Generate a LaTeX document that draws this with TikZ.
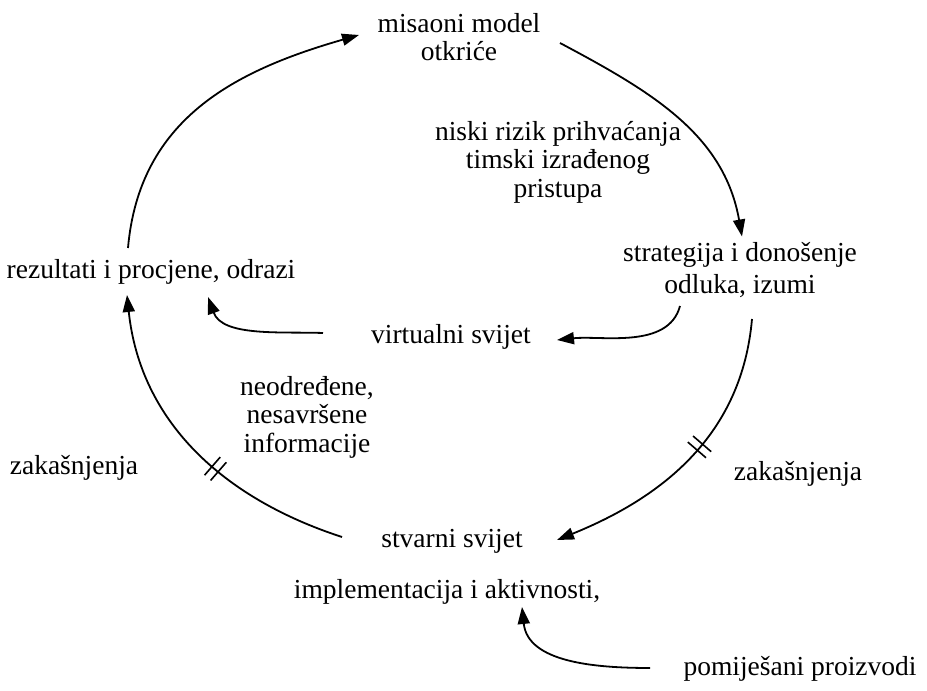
\documentclass[tikz,border=0pt]{standalone}
\usepackage{fontspec}
\setmainfont{Liberation Serif}
\usetikzlibrary{arrows.meta,decorations.markings}
\begin{document}
\begin{tikzpicture}[x=1pt,y=1pt,
  lbl/.style={font=\fontsize{27.5}{28.5}\selectfont, inner sep=0pt, align=center},
  conn/.style={line width=1.8pt, -{Triangle[length=17pt,width=12pt]}},
  delaymark/.style={postaction={decorate,decoration={markings,
      mark=at position #1 with {
        \draw[-,line width=1.6pt] (-4pt,-12pt) -- (-4pt,12pt);
        \draw[-,line width=1.6pt] (4pt,-12pt) -- (4pt,12pt);}}}}
]
\useasboundingbox (0,0) rectangle (927,691);

% labels
\node[lbl] (mis)  at (459,654) {misaoni model\\otkriće};
\node[lbl] (nis)  at (558,529) {niski rizik prihvaćanja\\timski izrađenog\\pristupa};
\node[lbl,font=\fontsize{27.5}{32}\selectfont] (str) at (740,420.5) {strategija i donošenje\\odluka, izumi};
\node[lbl] (rez)  at (151,419) {rezultati i procjene, odrazi};
\node[lbl] (vir)  at (451,354) {virtualni svijet};
\node[lbl] (neo)  at (307,274) {neodređene,\\nesavršene\\informacije};
\node[lbl] (zakL) at (74,223)  {zakašnjenja};
\node[lbl] (zakR) at (798,217) {zakašnjenja};
\node[lbl] (stv)  at (452,150) {stvarni svijet};
\node[lbl] (imp)  at (447,99)  {implementacija i aktivnosti,};
\node[lbl] (pom)  at (800,22)  {pomiješani proizvodi};

% main loop
\draw[conn] ([shift={(-23,24)}]rez.center) to[out=85,in=196,looseness=1.05]
  ([shift={(-100,2)}]mis.center);
\draw[conn] ([shift={(101,-6)}]mis.center) to[out=-28,in=100,looseness=1.0]
  ([shift={(2,34)}]str.center);
\draw[conn,delaymark=0.45] ([shift={(12,-48.5)}]str.center) to[out=-95,in=22,looseness=1.0]
  ([shift={(105,1)}]stv.center);
\draw[conn,delaymark=0.42] ([shift={(-110,4)}]stv.center) to[out=162,in=-84,looseness=1.0]
  ([shift={(-24,-23)}]rez.center);

% inner feedback
\draw[conn] ([shift={(-60,-35.5)}]str.center) to[out=-105,in=6,looseness=0.9]
  ([shift={(106,-3)}]vir.center);
\draw[conn] ([shift={(-128,4)}]vir.center) to[out=178,in=-70,looseness=0.9]
  ([shift={(57,-25)}]rez.center);

% external input
\draw[conn] ([shift={(-150,1)}]pom.center) to[out=180,in=-84,looseness=1.0]
  ([shift={(75,-15)}]imp.center);
\end{tikzpicture}
\end{document}
